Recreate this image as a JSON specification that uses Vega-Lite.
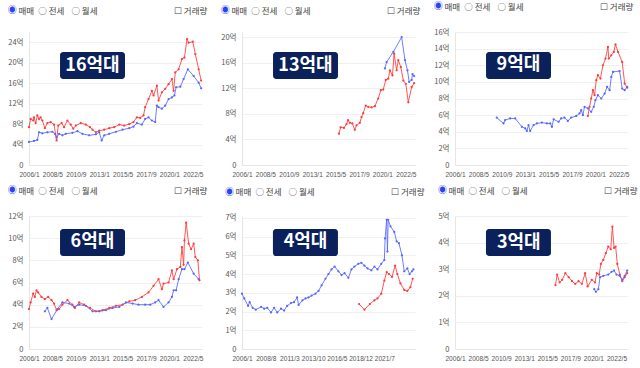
{
 "$schema": "https://vega.github.io/schema/vega-lite/v6.json",
 "padding": {"left": 7, "top": 2, "right": 2, "bottom": 2},
 "background": "white",
 "config": {
  "view": {"stroke": null},
  "font": "Noto Sans CJK KR",
  "axis": {"labelFont": "Noto Sans CJK KR", "labelFontSize": 7.5, "labelColor": "#555", "title": null, "ticks": false, "gridColor": "#f0f0f0", "domainColor": "#e6e6e6", "labelPadding": 6, "labelOverlap": false, "tickCount": 20},
  "axisX": {"grid": false, "format": "%Y/%-m", "labelFlush": false, "labelPadding": 6, "labelFontSize": 6.6, "labelFont": "Liberation Sans"},
  "title": {"anchor": "start", "frame": "bounds", "fontSize": 9, "fontWeight": "normal", "color": "#2a45f0", "offset": 17, "font": "Noto Sans CJK KR", "subtitleFont": "Noto Sans CJK KR", "subtitleFontSize": 8.5, "subtitleColor": "#444", "subtitlePadding": -8.5},
  "line": {"strokeWidth": 1, "opacity": 0.85},
  "rect": {"color": "#0a215c", "cornerRadius": 3},
  "text": {"color": "white", "fontSize": 18, "fontWeight": "bold", "font": "Noto Sans CJK KR", "baseline": "middle", "align": "center"}
 },
 "bounds": "flush",
 "columns": 3,
 "spacing": {"row": 51, "column": 40},
 "datasets": {
  "labels": [{"panel": "16억대"}, {"panel": "13억대"}, {"panel": "9억대"}, {"panel": "6억대"}, {"panel": "4억대"}, {"panel": "3억대"}],
  "p16": [
   {"series":"A","date":"2006-01-01","value":7.4},{"series":"A","date":"2006-03-01","value":9.0},{"series":"A","date":"2006-06-01","value":8.7},{"series":"A","date":"2006-07-01","value":9.3},{"series":"A","date":"2006-09-01","value":8.2},{"series":"A","date":"2006-11-01","value":9.7},{"series":"A","date":"2007-01-01","value":9.0},{"series":"A","date":"2007-03-01","value":9.3},{"series":"A","date":"2007-05-01","value":8.7},{"series":"A","date":"2007-08-01","value":7.2},{"series":"A","date":"2007-11-01","value":8.2},{"series":"A","date":"2008-03-01","value":8.4},{"series":"A","date":"2008-07-01","value":7.9},{"series":"A","date":"2008-10-01","value":4.8},{"series":"A","date":"2008-12-01","value":7.7},{"series":"A","date":"2009-04-01","value":8.2},{"series":"A","date":"2009-07-01","value":7.4},{"series":"A","date":"2009-11-01","value":8.7},{"series":"A","date":"2010-03-01","value":7.9},{"series":"A","date":"2010-06-01","value":7.1},{"series":"A","date":"2010-09-01","value":7.7},{"series":"A","date":"2011-03-01","value":8.2},{"series":"A","date":"2011-09-01","value":7.9},{"series":"A","date":"2012-02-01","value":7.4},{"series":"A","date":"2012-05-01","value":6.9},{"series":"A","date":"2012-09-01","value":6.4},{"series":"A","date":"2013-01-01","value":6.7},{"series":"A","date":"2013-07-01","value":6.9},{"series":"A","date":"2014-01-01","value":7.2},{"series":"A","date":"2014-07-01","value":7.4},{"series":"A","date":"2015-01-01","value":7.9},{"series":"A","date":"2015-07-01","value":7.7},{"series":"A","date":"2016-01-01","value":8.0},{"series":"A","date":"2016-06-01","value":8.4},{"series":"A","date":"2016-10-01","value":9.3},{"series":"A","date":"2017-02-01","value":9.2},{"series":"A","date":"2017-06-01","value":9.7},{"series":"A","date":"2017-08-01","value":11.3},{"series":"A","date":"2017-12-01","value":12.9},{"series":"A","date":"2018-04-01","value":14.5},{"series":"A","date":"2018-06-01","value":13.6},{"series":"A","date":"2018-10-01","value":15.5},{"series":"A","date":"2018-12-01","value":12.6},{"series":"A","date":"2019-04-01","value":14.2},{"series":"A","date":"2019-08-01","value":14.9},{"series":"A","date":"2019-12-01","value":15.8},{"series":"A","date":"2020-04-01","value":16.8},{"series":"A","date":"2020-06-01","value":14.5},{"series":"A","date":"2020-08-01","value":18.1},{"series":"A","date":"2020-12-01","value":18.7},{"series":"A","date":"2021-04-01","value":20.7},{"series":"A","date":"2021-07-01","value":21.0},{"series":"A","date":"2021-10-01","value":24.6},{"series":"A","date":"2021-12-01","value":23.9},{"series":"A","date":"2022-05-01","value":24.1},{"series":"A","date":"2022-08-01","value":21.7},{"series":"A","date":"2022-12-01","value":18.7},{"series":"A","date":"2023-03-01","value":16.5},
   {"series":"B","date":"2006-01-01","value":4.5},{"series":"B","date":"2006-07-01","value":4.7},{"series":"B","date":"2006-11-01","value":4.9},{"series":"B","date":"2007-01-01","value":6.4},{"series":"B","date":"2007-05-01","value":6.2},{"series":"B","date":"2007-11-01","value":6.4},{"series":"B","date":"2008-05-01","value":6.5},{"series":"B","date":"2008-08-01","value":6.1},{"series":"B","date":"2008-10-01","value":5.4},{"series":"B","date":"2009-01-01","value":6.1},{"series":"B","date":"2009-05-01","value":5.8},{"series":"B","date":"2009-09-01","value":6.1},{"series":"B","date":"2010-05-01","value":6.3},{"series":"B","date":"2010-11-01","value":6.6},{"series":"B","date":"2011-05-01","value":6.1},{"series":"B","date":"2012-01-01","value":5.8},{"series":"B","date":"2012-09-01","value":6.0},{"series":"B","date":"2013-01-01","value":6.4},{"series":"B","date":"2013-04-01","value":4.8},{"series":"B","date":"2013-07-01","value":5.8},{"series":"B","date":"2014-01-01","value":6.1},{"series":"B","date":"2014-09-01","value":6.5},{"series":"B","date":"2015-05-01","value":6.9},{"series":"B","date":"2016-01-01","value":7.2},{"series":"B","date":"2016-06-01","value":7.5},{"series":"B","date":"2016-10-01","value":8.2},{"series":"B","date":"2017-04-01","value":7.9},{"series":"B","date":"2017-08-01","value":9.0},{"series":"B","date":"2017-12-01","value":9.3},{"series":"B","date":"2018-04-01","value":8.7},{"series":"B","date":"2018-08-01","value":8.4},{"series":"B","date":"2018-10-01","value":11.6},{"series":"B","date":"2018-12-01","value":11.3},{"series":"B","date":"2019-04-01","value":11.0},{"series":"B","date":"2019-08-01","value":11.6},{"series":"B","date":"2019-12-01","value":12.9},{"series":"B","date":"2020-04-01","value":13.2},{"series":"B","date":"2020-07-01","value":13.6},{"series":"B","date":"2020-09-01","value":15.2},{"series":"B","date":"2021-02-01","value":15.3},{"series":"B","date":"2021-06-01","value":16.8},{"series":"B","date":"2021-11-01","value":18.7},{"series":"B","date":"2022-06-01","value":17.4},{"series":"B","date":"2022-12-01","value":16.1},{"series":"B","date":"2023-03-01","value":15.0}
  ],
  "p13": [
   {"series":"A","date":"2015-09-01","value":4.9},{"series":"A","date":"2015-11-01","value":5.9},{"series":"A","date":"2016-03-01","value":5.8},{"series":"A","date":"2016-06-01","value":6.4},{"series":"A","date":"2016-08-01","value":7.0},{"series":"A","date":"2016-10-01","value":6.6},{"series":"A","date":"2017-01-01","value":6.5},{"series":"A","date":"2017-04-01","value":5.5},{"series":"A","date":"2017-06-01","value":6.2},{"series":"A","date":"2017-10-01","value":6.6},{"series":"A","date":"2017-12-01","value":7.5},{"series":"A","date":"2018-02-01","value":8.1},{"series":"A","date":"2018-05-01","value":9.3},{"series":"A","date":"2018-08-01","value":9.1},{"series":"A","date":"2018-12-01","value":9.0},{"series":"A","date":"2019-04-01","value":9.2},{"series":"A","date":"2019-08-01","value":10.4},{"series":"A","date":"2019-11-01","value":11.7},{"series":"A","date":"2020-02-01","value":11.8},{"series":"A","date":"2020-05-01","value":13.3},{"series":"A","date":"2020-08-01","value":13.5},{"series":"A","date":"2020-10-01","value":14.8},{"series":"A","date":"2021-01-01","value":14.0},{"series":"A","date":"2021-03-01","value":17.4},{"series":"A","date":"2021-06-01","value":14.8},{"series":"A","date":"2021-08-01","value":16.4},{"series":"A","date":"2021-11-01","value":15.3},{"series":"A","date":"2022-02-01","value":13.2},{"series":"A","date":"2022-05-01","value":12.7},{"series":"A","date":"2022-08-01","value":9.8},{"series":"A","date":"2022-12-01","value":12.2},{"series":"A","date":"2023-03-01","value":12.8},
   {"series":"B","date":"2020-04-01","value":15.1},{"series":"B","date":"2020-06-01","value":16.1},{"series":"B","date":"2021-02-01","value":17.7},{"series":"B","date":"2021-12-01","value":20.0},{"series":"B","date":"2022-04-01","value":16.4},{"series":"B","date":"2022-07-01","value":14.8},{"series":"B","date":"2022-09-01","value":13.0},{"series":"B","date":"2022-12-01","value":13.3},{"series":"B","date":"2023-01-01","value":14.2},{"series":"B","date":"2023-03-01","value":13.9}
  ],
  "p9": [
   {"series":"A","date":"2019-04-01","value":5.9},{"series":"A","date":"2019-06-01","value":7.0},{"series":"A","date":"2019-08-01","value":8.0},{"series":"A","date":"2019-10-01","value":9.0},{"series":"A","date":"2019-12-01","value":8.4},{"series":"A","date":"2020-02-01","value":10.2},{"series":"A","date":"2020-04-01","value":10.8},{"series":"A","date":"2020-07-01","value":10.4},{"series":"A","date":"2020-10-01","value":12.0},{"series":"A","date":"2021-01-01","value":12.8},{"series":"A","date":"2021-04-01","value":14.2},{"series":"A","date":"2021-05-01","value":12.8},{"series":"A","date":"2021-08-01","value":13.2},{"series":"A","date":"2021-11-01","value":13.6},{"series":"A","date":"2022-01-01","value":14.5},{"series":"A","date":"2022-04-01","value":13.6},{"series":"A","date":"2022-09-01","value":12.4},{"series":"A","date":"2022-12-01","value":9.8},{"series":"A","date":"2023-03-01","value":9.3},
   {"series":"B","date":"2010-03-01","value":5.7},{"series":"B","date":"2010-11-01","value":5.0},{"series":"B","date":"2011-01-01","value":5.4},{"series":"B","date":"2011-07-01","value":5.6},{"series":"B","date":"2012-01-01","value":5.6},{"series":"B","date":"2012-09-01","value":4.6},{"series":"B","date":"2013-01-01","value":4.4},{"series":"B","date":"2013-03-01","value":4.1},{"series":"B","date":"2013-05-01","value":4.8},{"series":"B","date":"2013-07-01","value":4.1},{"series":"B","date":"2013-11-01","value":4.8},{"series":"B","date":"2014-03-01","value":5.0},{"series":"B","date":"2014-09-01","value":5.1},{"series":"B","date":"2015-03-01","value":5.0},{"series":"B","date":"2015-07-01","value":5.0},{"series":"B","date":"2015-09-01","value":4.6},{"series":"B","date":"2015-11-01","value":5.5},{"series":"B","date":"2016-05-01","value":5.2},{"series":"B","date":"2016-08-01","value":5.6},{"series":"B","date":"2016-12-01","value":5.7},{"series":"B","date":"2017-04-01","value":5.3},{"series":"B","date":"2017-08-01","value":5.7},{"series":"B","date":"2018-02-01","value":5.9},{"series":"B","date":"2018-06-01","value":6.2},{"series":"B","date":"2018-08-01","value":6.6},{"series":"B","date":"2018-10-01","value":6.0},{"series":"B","date":"2018-12-01","value":7.0},{"series":"B","date":"2019-04-01","value":6.8},{"series":"B","date":"2019-08-01","value":6.4},{"series":"B","date":"2019-11-01","value":7.0},{"series":"B","date":"2020-01-01","value":7.8},{"series":"B","date":"2020-04-01","value":8.4},{"series":"B","date":"2020-08-01","value":8.0},{"series":"B","date":"2020-12-01","value":8.6},{"series":"B","date":"2021-03-01","value":9.4},{"series":"B","date":"2021-06-01","value":9.0},{"series":"B","date":"2021-08-01","value":10.6},{"series":"B","date":"2021-10-01","value":11.2},{"series":"B","date":"2022-06-01","value":11.3},{"series":"B","date":"2022-09-01","value":9.2},{"series":"B","date":"2022-12-01","value":9.0},{"series":"B","date":"2023-03-01","value":9.4}
  ],
  "p6": [
   {"series":"A","date":"2006-01-01","value":3.6},{"series":"A","date":"2006-03-01","value":4.2},{"series":"A","date":"2006-06-01","value":5.0},{"series":"A","date":"2006-08-01","value":4.7},{"series":"A","date":"2006-10-01","value":5.3},{"series":"A","date":"2006-12-01","value":5.1},{"series":"A","date":"2007-04-01","value":4.7},{"series":"A","date":"2007-08-01","value":4.5},{"series":"A","date":"2007-12-01","value":4.7},{"series":"A","date":"2008-04-01","value":4.4},{"series":"A","date":"2008-07-01","value":4.1},{"series":"A","date":"2008-10-01","value":3.5},{"series":"A","date":"2009-01-01","value":3.6},{"series":"A","date":"2009-05-01","value":4.0},{"series":"A","date":"2009-11-01","value":4.4},{"series":"A","date":"2010-05-01","value":4.0},{"series":"A","date":"2010-08-01","value":3.7},{"series":"A","date":"2011-01-01","value":4.2},{"series":"A","date":"2011-07-01","value":4.0},{"series":"A","date":"2012-02-01","value":3.7},{"series":"A","date":"2012-09-01","value":3.4},{"series":"A","date":"2013-05-01","value":3.5},{"series":"A","date":"2014-01-01","value":3.7},{"series":"A","date":"2014-09-01","value":3.9},{"series":"A","date":"2015-05-01","value":4.0},{"series":"A","date":"2016-01-01","value":4.3},{"series":"A","date":"2016-08-01","value":4.4},{"series":"A","date":"2017-04-01","value":4.7},{"series":"A","date":"2017-12-01","value":5.1},{"series":"A","date":"2018-06-01","value":5.7},{"series":"A","date":"2018-12-01","value":6.3},{"series":"A","date":"2019-04-01","value":5.4},{"series":"A","date":"2019-06-01","value":5.9},{"series":"A","date":"2019-12-01","value":6.0},{"series":"A","date":"2020-04-01","value":7.1},{"series":"A","date":"2020-06-01","value":6.3},{"series":"A","date":"2020-10-01","value":7.2},{"series":"A","date":"2021-02-01","value":7.4},{"series":"A","date":"2021-04-01","value":9.2},{"series":"A","date":"2021-06-01","value":7.6},{"series":"A","date":"2021-07-01","value":9.8},{"series":"A","date":"2021-09-01","value":11.4},{"series":"A","date":"2021-12-01","value":9.5},{"series":"A","date":"2022-03-01","value":9.0},{"series":"A","date":"2022-06-01","value":9.5},{"series":"A","date":"2022-08-01","value":8.3},{"series":"A","date":"2022-11-01","value":8.0},{"series":"A","date":"2023-01-01","value":6.2},
   {"series":"B","date":"2007-08-01","value":3.4},{"series":"B","date":"2007-11-01","value":3.7},{"series":"B","date":"2008-04-01","value":2.7},{"series":"B","date":"2008-11-01","value":3.6},{"series":"B","date":"2009-05-01","value":4.2},{"series":"B","date":"2010-01-01","value":4.1},{"series":"B","date":"2010-07-01","value":3.8},{"series":"B","date":"2011-01-01","value":4.0},{"series":"B","date":"2011-09-01","value":3.9},{"series":"B","date":"2012-05-01","value":3.4},{"series":"B","date":"2013-01-01","value":3.4},{"series":"B","date":"2013-09-01","value":3.5},{"series":"B","date":"2014-05-01","value":3.7},{"series":"B","date":"2015-01-01","value":3.8},{"series":"B","date":"2015-09-01","value":4.2},{"series":"B","date":"2016-05-01","value":4.1},{"series":"B","date":"2016-12-01","value":4.0},{"series":"B","date":"2017-08-01","value":4.0},{"series":"B","date":"2018-02-01","value":4.0},{"series":"B","date":"2018-08-01","value":4.2},{"series":"B","date":"2018-12-01","value":4.4},{"series":"B","date":"2019-06-01","value":3.8},{"series":"B","date":"2019-12-01","value":4.2},{"series":"B","date":"2020-04-01","value":4.7},{"series":"B","date":"2020-06-01","value":5.3},{"series":"B","date":"2020-09-01","value":5.3},{"series":"B","date":"2020-12-01","value":6.3},{"series":"B","date":"2021-04-01","value":7.2},{"series":"B","date":"2021-07-01","value":7.2},{"series":"B","date":"2021-11-01","value":7.8},{"series":"B","date":"2022-06-01","value":6.8},{"series":"B","date":"2022-12-01","value":6.3}
  ],
  "p4": [
   {"series":"A","date":"2018-10-01","value":2.4},{"series":"A","date":"2019-05-01","value":2.1},{"series":"A","date":"2019-12-01","value":2.4},{"series":"A","date":"2020-06-01","value":2.6},{"series":"A","date":"2020-10-01","value":2.7},{"series":"A","date":"2021-03-01","value":2.95},{"series":"A","date":"2021-07-01","value":3.65},{"series":"A","date":"2021-10-01","value":4.1},{"series":"A","date":"2022-01-01","value":4.0},{"series":"A","date":"2022-05-01","value":3.85},{"series":"A","date":"2022-09-01","value":4.45},{"series":"A","date":"2022-12-01","value":4.0},{"series":"A","date":"2023-04-01","value":3.5},{"series":"A","date":"2023-09-01","value":3.15},{"series":"A","date":"2024-01-01","value":3.1},{"series":"A","date":"2024-05-01","value":3.3},{"series":"A","date":"2024-08-01","value":3.75},
   {"series":"B","date":"2006-01-01","value":2.95},{"series":"B","date":"2006-04-01","value":2.7},{"series":"B","date":"2006-09-01","value":2.3},{"series":"B","date":"2006-11-01","value":2.5},{"series":"B","date":"2007-03-01","value":2.2},{"series":"B","date":"2007-07-01","value":2.1},{"series":"B","date":"2008-02-01","value":2.25},{"series":"B","date":"2008-06-01","value":2.15},{"series":"B","date":"2008-10-01","value":2.2},{"series":"B","date":"2009-03-01","value":1.95},{"series":"B","date":"2009-07-01","value":2.2},{"series":"B","date":"2009-11-01","value":1.95},{"series":"B","date":"2010-04-01","value":2.15},{"series":"B","date":"2010-08-01","value":2.05},{"series":"B","date":"2010-12-01","value":2.3},{"series":"B","date":"2011-05-01","value":2.45},{"series":"B","date":"2011-09-01","value":2.5},{"series":"B","date":"2012-01-01","value":2.75},{"series":"B","date":"2012-03-01","value":2.35},{"series":"B","date":"2012-08-01","value":2.6},{"series":"B","date":"2012-12-01","value":2.7},{"series":"B","date":"2013-04-01","value":2.75},{"series":"B","date":"2013-08-01","value":2.85},{"series":"B","date":"2014-01-01","value":2.95},{"series":"B","date":"2014-05-01","value":3.1},{"series":"B","date":"2014-09-01","value":3.4},{"series":"B","date":"2015-02-01","value":3.75},{"series":"B","date":"2015-06-01","value":4.0},{"series":"B","date":"2015-10-01","value":4.25},{"series":"B","date":"2016-02-01","value":4.4},{"series":"B","date":"2016-07-01","value":4.15},{"series":"B","date":"2016-11-01","value":3.95},{"series":"B","date":"2017-03-01","value":4.05},{"series":"B","date":"2017-08-01","value":3.8},{"series":"B","date":"2017-12-01","value":4.25},{"series":"B","date":"2018-04-01","value":4.4},{"series":"B","date":"2018-09-01","value":4.55},{"series":"B","date":"2019-01-01","value":4.6},{"series":"B","date":"2019-05-01","value":4.45},{"series":"B","date":"2019-09-01","value":4.3},{"series":"B","date":"2020-02-01","value":4.2},{"series":"B","date":"2020-06-01","value":4.4},{"series":"B","date":"2020-10-01","value":4.25},{"series":"B","date":"2021-03-01","value":4.55},{"series":"B","date":"2021-07-01","value":4.75},{"series":"B","date":"2021-08-01","value":5.9},{"series":"B","date":"2021-10-01","value":6.9},{"series":"B","date":"2021-11-01","value":5.2},{"series":"B","date":"2021-12-01","value":6.9},{"series":"B","date":"2022-03-01","value":6.55},{"series":"B","date":"2022-08-01","value":6.25},{"series":"B","date":"2022-11-01","value":5.75},{"series":"B","date":"2023-02-01","value":5.65},{"series":"B","date":"2023-06-01","value":5.0},{"series":"B","date":"2023-09-01","value":4.15},{"series":"B","date":"2024-01-01","value":4.3},{"series":"B","date":"2024-04-01","value":4.0},{"series":"B","date":"2024-07-01","value":4.15},{"series":"B","date":"2024-09-01","value":4.25}
  ],
  "p3": [
   {"series":"A","date":"2016-03-01","value":2.4},{"series":"A","date":"2016-05-01","value":2.8},{"series":"A","date":"2016-08-01","value":2.5},{"series":"A","date":"2016-11-01","value":2.6},{"series":"A","date":"2017-03-01","value":2.85},{"series":"A","date":"2017-07-01","value":2.7},{"series":"A","date":"2017-11-01","value":2.55},{"series":"A","date":"2018-03-01","value":2.45},{"series":"A","date":"2018-07-01","value":2.55},{"series":"A","date":"2018-11-01","value":2.45},{"series":"A","date":"2019-03-01","value":2.85},{"series":"A","date":"2019-06-01","value":2.35},{"series":"A","date":"2019-11-01","value":2.6},{"series":"A","date":"2020-03-01","value":2.5},{"series":"A","date":"2020-05-01","value":2.85},{"series":"A","date":"2020-08-01","value":2.8},{"series":"A","date":"2020-10-01","value":3.2},{"series":"A","date":"2021-01-01","value":3.35},{"series":"A","date":"2021-04-01","value":3.6},{"series":"A","date":"2021-07-01","value":3.85},{"series":"A","date":"2021-10-01","value":3.75},{"series":"A","date":"2021-12-01","value":4.6},{"series":"A","date":"2022-02-01","value":3.8},{"series":"A","date":"2022-04-01","value":3.85},{"series":"A","date":"2022-06-01","value":3.2},{"series":"A","date":"2022-09-01","value":2.8},{"series":"A","date":"2022-12-01","value":2.55},{"series":"A","date":"2023-03-01","value":2.7},{"series":"A","date":"2023-06-01","value":2.85},
   {"series":"B","date":"2020-02-01","value":2.25},{"series":"B","date":"2020-04-01","value":2.15},{"series":"B","date":"2020-07-01","value":2.25},{"series":"B","date":"2020-09-01","value":2.7},{"series":"B","date":"2021-01-01","value":2.75},{"series":"B","date":"2021-07-01","value":2.8},{"series":"B","date":"2021-11-01","value":2.9},{"series":"B","date":"2022-02-01","value":2.95},{"series":"B","date":"2022-05-01","value":2.8},{"series":"B","date":"2022-09-01","value":2.75},{"series":"B","date":"2022-12-01","value":2.6},{"series":"B","date":"2023-03-01","value":2.75},{"series":"B","date":"2023-06-01","value":2.95}
  ]
 },
 "concat": [
  {
   "title": {"text": "◉", "subtitle": "\u200b\u2003\u2005매매\u2002○ 전세\u2002\u2004○ 월세\u2003\u2003\u2003\u2003\u2003\u2003\u2003\u2003\u2003☐ 거래량"},
   "width": 173, "height": 133,
   "layer": [
    {"data": {"name": "p16"}, "mark": {"type": "line", "point": {"size": 5, "filled": true}},
     "encoding": {
      "x": {"field": "date", "type": "temporal", "scale": {"domain": [{"year": 2006, "month": 1}, {"year": 2023, "month": 4}]}, "axis": {"tickCount": 20, "labelOverlap": false, "values": [{"year": 2006, "month": 1}, {"year": 2008, "month": 5}, {"year": 2010, "month": 9}, {"year": 2013, "month": 1}, {"year": 2015, "month": 5}, {"year": 2017, "month": 9}, {"year": 2020, "month": 1}, {"year": 2022, "month": 5}]}},
      "y": {"field": "value", "type": "quantitative", "scale": {"domain": [0, 26], "nice": false}, "axis": {"tickCount": 20, "labelOverlap": false, "values": [0, 4, 8, 12, 16, 20, 24], "labelExpr": "datum.value == 0 ? '0' : datum.value + '억'"}},
      "color": {"field": "series", "type": "nominal", "scale": {"domain": ["A", "B"], "range": ["#ff3a3a", "#5566ff"]}, "legend": null}
     }},
    {"data": {"name": "labels"}, "transform": [{"filter": "datum.panel == '16억대'"}], "mark": "rect",
     "encoding": {"x": {"datum": {"year": 2009, "month": 2, "date": 4}, "type": "temporal"}, "x2": {"datum": {"year": 2015, "month": 7, "date": 28}}, "y": {"datum": 22.09, "type": "quantitative"}, "y2": {"datum": 16.81}}},
    {"data": {"name": "labels"}, "transform": [{"filter": "datum.panel == '16억대'"}], "mark": "text",
     "encoding": {"x": {"datum": {"year": 2012, "month": 5, "date": 1}, "type": "temporal"}, "y": {"datum": 19.45, "type": "quantitative"}, "text": {"field": "panel"}}}
   ]
  },
  {
   "title": {"text": "◉", "subtitle": "\u200b\u2003\u2005매매\u2002○ 전세\u2002\u2004○ 월세\u2003\u2003\u2003\u2003\u2003\u2003\u2003\u2003\u2003☐ 거래량"},
   "width": 173, "height": 133,
   "layer": [
    {"data": {"name": "p13"}, "mark": {"type": "line", "point": {"size": 5, "filled": true}},
     "encoding": {
      "x": {"field": "date", "type": "temporal", "scale": {"domain": [{"year": 2006, "month": 1}, {"year": 2023, "month": 4}]}, "axis": {"tickCount": 20, "labelOverlap": false, "values": [{"year": 2006, "month": 1}, {"year": 2008, "month": 5}, {"year": 2010, "month": 9}, {"year": 2013, "month": 1}, {"year": 2015, "month": 5}, {"year": 2017, "month": 9}, {"year": 2020, "month": 1}, {"year": 2022, "month": 5}]}},
      "y": {"field": "value", "type": "quantitative", "scale": {"domain": [0, 20.8], "nice": false}, "axis": {"tickCount": 20, "labelOverlap": false, "values": [0, 4, 8, 12, 16, 20], "labelExpr": "datum.value == 0 ? '0' : datum.value + '억'"}},
      "color": {"field": "series", "type": "nominal", "scale": {"domain": ["A", "B"], "range": ["#ff3a3a", "#5566ff"]}, "legend": null}
     }},
    {"data": {"name": "labels"}, "transform": [{"filter": "datum.panel == '13억대'"}], "mark": "rect",
     "encoding": {"x": {"datum": {"year": 2009, "month": 2, "date": 4}, "type": "temporal"}, "x2": {"datum": {"year": 2015, "month": 7, "date": 28}}, "y": {"datum": 17.67, "type": "quantitative"}, "y2": {"datum": 13.45}}},
    {"data": {"name": "labels"}, "transform": [{"filter": "datum.panel == '13억대'"}], "mark": "text",
     "encoding": {"x": {"datum": {"year": 2012, "month": 5, "date": 1}, "type": "temporal"}, "y": {"datum": 15.56, "type": "quantitative"}, "text": {"field": "panel"}}}
   ]
  },
  {
   "title": {"text": "◉", "subtitle": "\u200b\u2003\u2005매매\u2002○ 전세\u2002\u2004○ 월세\u2003\u2003\u2003\u2003\u2003\u2003\u2003\u2003\u2003☐ 거래량"},
   "width": 173, "height": 133,
   "layer": [
    {"data": {"name": "p9"}, "mark": {"type": "line", "point": {"size": 5, "filled": true}},
     "encoding": {
      "x": {"field": "date", "type": "temporal", "scale": {"domain": [{"year": 2006, "month": 1}, {"year": 2023, "month": 4}]}, "axis": {"tickCount": 20, "labelOverlap": false, "values": [{"year": 2006, "month": 1}, {"year": 2008, "month": 5}, {"year": 2010, "month": 9}, {"year": 2013, "month": 1}, {"year": 2015, "month": 5}, {"year": 2017, "month": 9}, {"year": 2020, "month": 1}, {"year": 2022, "month": 5}]}},
      "y": {"field": "value", "type": "quantitative", "scale": {"domain": [0, 16], "nice": false}, "axis": {"tickCount": 20, "labelOverlap": false, "values": [0, 2, 4, 6, 8, 10, 12, 14, 16], "labelExpr": "datum.value == 0 ? '0' : datum.value + '억'"}},
      "color": {"field": "series", "type": "nominal", "scale": {"domain": ["A", "B"], "range": ["#ff3a3a", "#5566ff"]}, "legend": null}
     }},
    {"data": {"name": "labels"}, "transform": [{"filter": "datum.panel == '9억대'"}], "mark": "rect",
     "encoding": {"x": {"datum": {"year": 2009, "month": 2, "date": 4}, "type": "temporal"}, "x2": {"datum": {"year": 2015, "month": 7, "date": 28}}, "y": {"datum": 13.59, "type": "quantitative"}, "y2": {"datum": 10.35}}},
    {"data": {"name": "labels"}, "transform": [{"filter": "datum.panel == '9억대'"}], "mark": "text",
     "encoding": {"x": {"datum": {"year": 2012, "month": 5, "date": 1}, "type": "temporal"}, "y": {"datum": 11.97, "type": "quantitative"}, "text": {"field": "panel"}}}
   ]
  },
  {
   "title": {"text": "◉", "subtitle": "\u200b\u2003\u2005매매\u2002○ 전세\u2002\u2004○ 월세\u2003\u2003\u2003\u2003\u2003\u2003\u2003\u2003\u2003☐ 거래량"},
   "width": 173, "height": 133,
   "layer": [
    {"data": {"name": "p6"}, "mark": {"type": "line", "point": {"size": 5, "filled": true}},
     "encoding": {
      "x": {"field": "date", "type": "temporal", "scale": {"domain": [{"year": 2006, "month": 1}, {"year": 2023, "month": 4}]}, "axis": {"tickCount": 20, "labelOverlap": false, "values": [{"year": 2006, "month": 1}, {"year": 2008, "month": 5}, {"year": 2010, "month": 9}, {"year": 2013, "month": 1}, {"year": 2015, "month": 5}, {"year": 2017, "month": 9}, {"year": 2020, "month": 1}, {"year": 2022, "month": 5}]}},
      "y": {"field": "value", "type": "quantitative", "scale": {"domain": [0, 12], "nice": false}, "axis": {"tickCount": 20, "labelOverlap": false, "values": [0, 2, 4, 6, 8, 10, 12], "labelExpr": "datum.value == 0 ? '0' : datum.value + '억'"}},
      "color": {"field": "series", "type": "nominal", "scale": {"domain": ["A", "B"], "range": ["#ff3a3a", "#5566ff"]}, "legend": null}
     }},
    {"data": {"name": "labels"}, "transform": [{"filter": "datum.panel == '6억대'"}], "mark": "rect",
     "encoding": {"x": {"datum": {"year": 2009, "month": 2, "date": 4}, "type": "temporal"}, "x2": {"datum": {"year": 2015, "month": 7, "date": 28}}, "y": {"datum": 10.83, "type": "quantitative"}, "y2": {"datum": 8.39}}},
    {"data": {"name": "labels"}, "transform": [{"filter": "datum.panel == '6억대'"}], "mark": "text",
     "encoding": {"x": {"datum": {"year": 2012, "month": 5, "date": 1}, "type": "temporal"}, "y": {"datum": 9.61, "type": "quantitative"}, "text": {"field": "panel"}}}
   ]
  },
  {
   "title": {"text": "◉", "subtitle": "\u200b\u2003\u2005매매\u2002○ 전세\u2002\u2004○ 월세\u2003\u2003\u2003\u2003\u2003\u2003\u2003\u2003\u2003☐ 거래량"},
   "width": 173, "height": 133,
   "layer": [
    {"data": {"name": "p4"}, "mark": {"type": "line", "point": {"size": 5, "filled": true}},
     "encoding": {
      "x": {"field": "date", "type": "temporal", "scale": {"domain": [{"year": 2006, "month": 1}, {"year": 2024, "month": 11}]}, "axis": {"tickCount": 20, "labelOverlap": false, "values": [{"year": 2006, "month": 1}, {"year": 2008, "month": 8}, {"year": 2011, "month": 3}, {"year": 2013, "month": 10}, {"year": 2016, "month": 5}, {"year": 2018, "month": 12}, {"year": 2021, "month": 7}]}},
      "y": {"field": "value", "type": "quantitative", "scale": {"domain": [0, 7.1], "nice": false}, "axis": {"tickCount": 20, "labelOverlap": false, "values": [0, 1, 2, 3, 4, 5, 6, 7], "labelExpr": "datum.value == 0 ? '0' : datum.value + '억'"}},
      "color": {"field": "series", "type": "nominal", "scale": {"domain": ["A", "B"], "range": ["#ff3a3a", "#5566ff"]}, "legend": null}
     }},
    {"data": {"name": "labels"}, "transform": [{"filter": "datum.panel == '4억대'"}], "mark": "rect",
     "encoding": {"x": {"datum": {"year": 2009, "month": 5, "date": 15}, "type": "temporal"}, "x2": {"datum": {"year": 2016, "month": 6, "date": 12}}, "y": {"datum": 6.41, "type": "quantitative"}, "y2": {"datum": 4.96}}},
    {"data": {"name": "labels"}, "transform": [{"filter": "datum.panel == '4억대'"}], "mark": "text",
     "encoding": {"x": {"datum": {"year": 2012, "month": 12, "date": 1}, "type": "temporal"}, "y": {"datum": 5.69, "type": "quantitative"}, "text": {"field": "panel"}}}
   ]
  },
  {
   "title": {"text": "◉", "subtitle": "\u200b\u2003\u2005매매\u2002○ 전세\u2002\u2004○ 월세\u2003\u2003\u2003\u2003\u2003\u2003\u2003\u2003\u2003☐ 거래량"},
   "width": 173, "height": 133,
   "layer": [
    {"data": {"name": "p3"}, "mark": {"type": "line", "point": {"size": 5, "filled": true}},
     "encoding": {
      "x": {"field": "date", "type": "temporal", "scale": {"domain": [{"year": 2006, "month": 1}, {"year": 2023, "month": 7}]}, "axis": {"tickCount": 20, "labelOverlap": false, "values": [{"year": 2006, "month": 1}, {"year": 2008, "month": 5}, {"year": 2010, "month": 9}, {"year": 2013, "month": 1}, {"year": 2015, "month": 5}, {"year": 2017, "month": 9}, {"year": 2020, "month": 1}, {"year": 2022, "month": 5}]}},
      "y": {"field": "value", "type": "quantitative", "scale": {"domain": [0, 5], "nice": false}, "axis": {"tickCount": 20, "labelOverlap": false, "values": [0, 1, 2, 3, 4, 5], "labelExpr": "datum.value == 0 ? '0' : datum.value + '억'"}},
      "color": {"field": "series", "type": "nominal", "scale": {"domain": ["A", "B"], "range": ["#ff3a3a", "#5566ff"]}, "legend": null}
     }},
    {"data": {"name": "labels"}, "transform": [{"filter": "datum.panel == '3억대'"}], "mark": "rect",
     "encoding": {"x": {"datum": {"year": 2009, "month": 2, "date": 18}, "type": "temporal"}, "x2": {"datum": {"year": 2015, "month": 9, "date": 15}}, "y": {"datum": 4.51, "type": "quantitative"}, "y2": {"datum": 3.5}}},
    {"data": {"name": "labels"}, "transform": [{"filter": "datum.panel == '3억대'"}], "mark": "text",
     "encoding": {"x": {"datum": {"year": 2012, "month": 6, "date": 15}, "type": "temporal"}, "y": {"datum": 4.0, "type": "quantitative"}, "text": {"field": "panel"}}}
   ]
  }
 ]
}
